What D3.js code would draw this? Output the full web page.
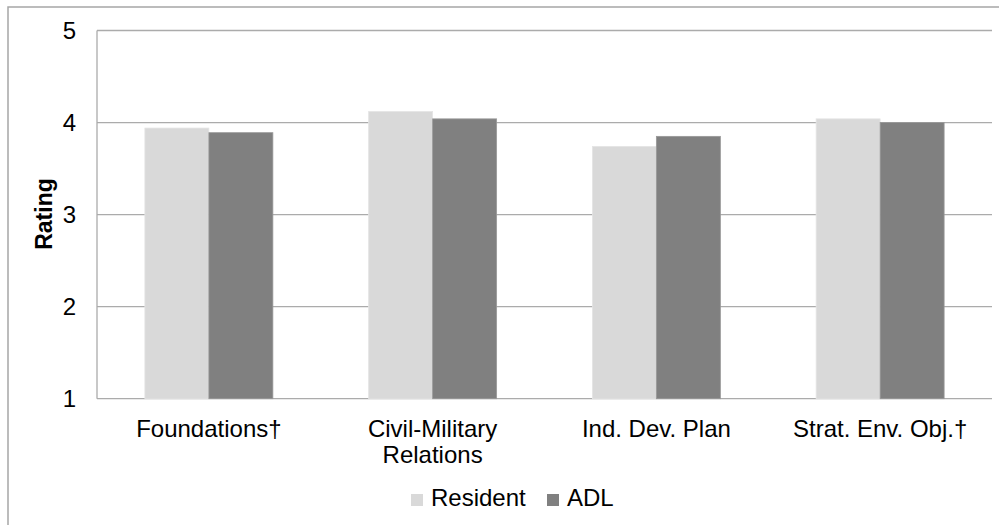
<!DOCTYPE html>
<html>
<head>
<meta charset="utf-8">
<script src="https://cdn.jsdelivr.net/npm/d3@7"></script>
<style>
  html, body { margin: 0; padding: 0; background: #fff; }
  svg { display: block; font-family: Arial, "Liberation Sans", sans-serif; }
</style>
</head>
<body>
<svg id="chart" width="999" height="525"></svg>
<script>
const categories = [["Foundations\u2020"], ["Civil-Military", "Relations"], ["Ind. Dev. Plan"], ["Strat. Env. Obj.\u2020"]];
const seriesNames = ["Resident", "ADL"];
const residentValues = [3.94, 4.12, 3.74, 4.04];
const adlValues = [3.89, 4.04, 3.85, 4.00];
const yTicks = [1, 2, 3, 4, 5];
const yLabel = "Rating";

const colors = { Resident: "#d9d9d9", ADL: "#808080" };
const strokes = { Resident: "#e4e4e4", ADL: "#999999" };

const svg = d3.select("#chart");
const W = 999, H = 525;
const plot = { left: 97, right: 992, top: 30.5, bottom: 398.7 };

// outer frame (cropped on right/bottom)
svg.append("rect").attr("x", 8).attr("y", 7).attr("width", W + 10).attr("height", H + 10)
  .attr("fill", "none").attr("stroke", "#a6a6a6").attr("stroke-width", 1.5);

const catKeys = categories.map(c => c.join(" "));
const x0 = d3.scaleBand().domain(catKeys).range([plot.left, plot.right])
  .paddingInner(0.428).paddingOuter(0.214);
const x1 = d3.scaleBand().domain(seriesNames).range([0, x0.bandwidth()]);
const y = d3.scaleLinear().domain([1, 5]).range([plot.bottom, plot.top]);

// gridlines
svg.append("g").selectAll("line").data(yTicks).join("line")
  .attr("x1", plot.left).attr("x2", plot.right)
  .attr("y1", d => y(d)).attr("y2", d => y(d))
  .attr("stroke", "#ababab").attr("stroke-width", 1.3);

// y axis line
svg.append("line").attr("x1", plot.left).attr("x2", plot.left)
  .attr("y1", y(5)).attr("y2", y(1)).attr("stroke", "#ababab").attr("stroke-width", 1.3);

// y tick labels via axis
const yAxis = d3.axisLeft(y).tickValues(yTicks).tickSize(0).tickPadding(21).tickFormat(d3.format("d"));
const ya = svg.append("g").attr("transform", `translate(${plot.left},0)`).call(yAxis);
ya.select(".domain").remove();
ya.selectAll("text").attr("font-size", 24).attr("fill", "#000")
  .attr("font-family", "Arial, 'Liberation Sans', sans-serif");

// bars
const data = catKeys.map((k, i) => ({ key: k, values: [
  { s: "Resident", v: residentValues[i] }, { s: "ADL", v: adlValues[i] }] }));
const groups = svg.append("g").selectAll("g").data(data).join("g")
  .attr("transform", d => `translate(${x0(d.key)},0)`);
groups.selectAll("rect").data(d => d.values).join("rect")
  .attr("x", d => x1(d.s))
  .attr("width", x1.bandwidth())
  .attr("y", d => y(d.v))
  .attr("height", d => y(1) - y(d.v))
  .attr("fill", d => colors[d.s])
  .attr("stroke", d => strokes[d.s]).attr("stroke-width", 0.8);

// category labels
const xl = svg.append("g");
categories.forEach((lines, i) => {
  const cx = x0(catKeys[i]) + x0.bandwidth() / 2;
  const t = xl.append("text").attr("text-anchor", "middle").attr("font-size", 24).attr("fill", "#000");
  lines.forEach((ln, j) => {
    t.append("tspan").attr("x", cx).attr("y", 437 + j * 26).text(ln);
  });
});

// y label
svg.append("text").attr("transform", "translate(52,214) rotate(-90)")
  .attr("text-anchor", "middle").attr("font-size", 23).attr("font-weight", "bold")
  .attr("fill", "#000").text(yLabel);

// legend
const legendItems = [{ s: "Resident", x: 411 }, { s: "ADL", x: 547 }];
const lg = svg.append("g");
legendItems.forEach(it => {
  lg.append("rect").attr("x", it.x).attr("y", 494).attr("width", 12).attr("height", 12)
    .attr("fill", colors[it.s]);
  lg.append("text").attr("x", it.x + 20).attr("y", 506).attr("font-size", 24).attr("fill", "#000").text(it.s);
});
</script>
</body>
</html>
